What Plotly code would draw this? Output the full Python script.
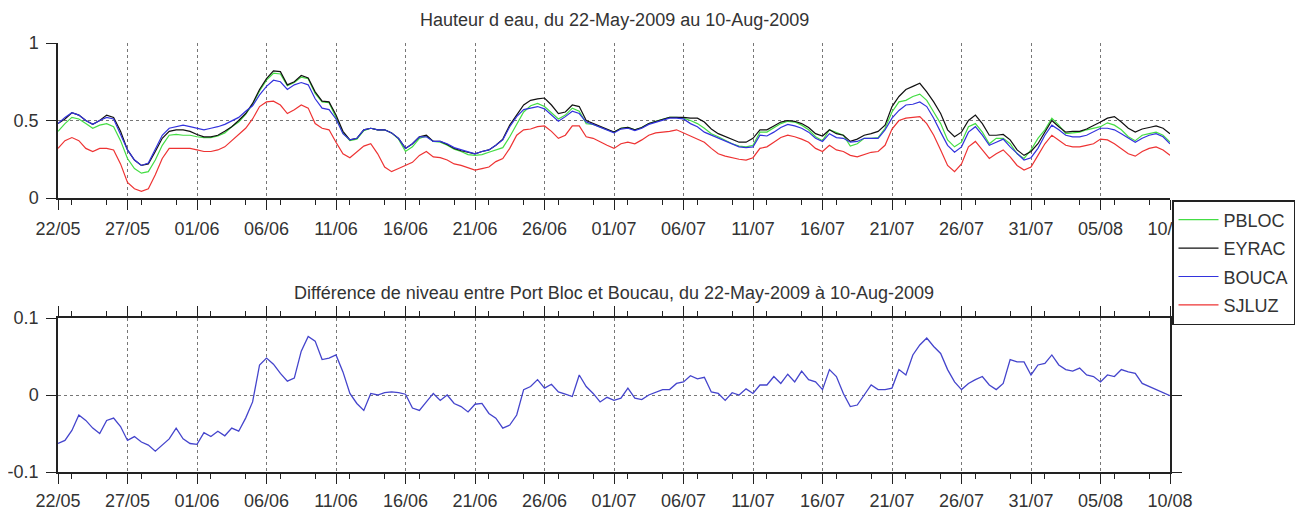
import pandas as pd
import plotly.graph_objects as go

# half-day samples, 22 May 2009 -> 10 Aug 2009
dates = pd.date_range("2009-05-22", "2009-08-10", freq="12h")

pbloc = [0.43, 0.48, 0.52, 0.51, 0.48, 0.45, 0.47, 0.48, 0.46, 0.37, 0.255, 0.19, 0.16, 0.17, 0.245, 0.34,
         0.405, 0.41, 0.405, 0.405, 0.395, 0.39, 0.39, 0.40, 0.42, 0.46, 0.49, 0.54, 0.605, 0.69, 0.76, 0.805,
         0.80, 0.725, 0.745, 0.78, 0.77, 0.675, 0.62, 0.615, 0.52, 0.42, 0.37, 0.38, 0.435, 0.45, 0.44, 0.44,
         0.42, 0.38, 0.30, 0.33, 0.385, 0.40,
         0.365, 0.36, 0.34, 0.315, 0.30, 0.28, 0.275, 0.28, 0.295, 0.31, 0.325, 0.395, 0.48, 0.555, 0.595, 0.61,
         0.59, 0.55, 0.51, 0.535, 0.58, 0.56, 0.48, 0.475, 0.455, 0.44, 0.425, 0.45, 0.455, 0.44, 0.455, 0.48,
         0.495, 0.51, 0.52, 0.52, 0.515, 0.50, 0.48, 0.45, 0.415, 0.395, 0.37, 0.35, 0.335, 0.33, 0.34, 0.425,
         0.425, 0.45, 0.48, 0.495, 0.49,
         0.47, 0.44, 0.395, 0.37, 0.44, 0.425, 0.405, 0.335, 0.35, 0.385, 0.385, 0.39, 0.45, 0.555, 0.62, 0.63,
         0.655, 0.67, 0.63, 0.555, 0.48, 0.375, 0.33, 0.36, 0.46, 0.48, 0.425, 0.35, 0.385, 0.385, 0.35, 0.285,
         0.255, 0.31, 0.385, 0.44, 0.515, 0.47, 0.415, 0.42, 0.425, 0.44, 0.45, 0.46, 0.485, 0.47, 0.44, 0.395,
         0.37, 0.405, 0.415, 0.425, 0.405, 0.36]

eyrac = [0.48, 0.51, 0.55, 0.535, 0.50, 0.475, 0.50, 0.535, 0.52, 0.43, 0.31, 0.245, 0.21, 0.22, 0.30, 0.385,
         0.43, 0.44, 0.44, 0.43, 0.41, 0.395, 0.395, 0.405, 0.43, 0.46, 0.50, 0.545, 0.61, 0.70, 0.77, 0.82,
         0.815, 0.73, 0.75, 0.79, 0.775, 0.685, 0.625, 0.62, 0.535, 0.43, 0.375, 0.385, 0.44, 0.45, 0.44, 0.44,
         0.42, 0.385, 0.32, 0.35, 0.395, 0.405,
         0.365, 0.365, 0.345, 0.32, 0.305, 0.295, 0.285, 0.30, 0.31, 0.34, 0.38, 0.47, 0.535, 0.60, 0.63, 0.64,
         0.645, 0.60, 0.545, 0.555, 0.60, 0.59, 0.50, 0.48, 0.46, 0.44, 0.425, 0.45, 0.455, 0.44, 0.455, 0.48,
         0.495, 0.51, 0.52, 0.52, 0.52, 0.515, 0.515, 0.49, 0.445, 0.415, 0.395, 0.375, 0.36, 0.36, 0.385, 0.44,
         0.44, 0.465, 0.49, 0.50, 0.495,
         0.48, 0.455, 0.415, 0.40, 0.44, 0.415, 0.405, 0.365, 0.38, 0.405, 0.415, 0.43, 0.47, 0.59, 0.655, 0.70,
         0.72, 0.74, 0.685, 0.62, 0.545, 0.44, 0.395, 0.425, 0.50, 0.535, 0.48, 0.405, 0.405, 0.41, 0.375, 0.31,
         0.275, 0.30, 0.35, 0.425, 0.50, 0.46, 0.425, 0.43, 0.43, 0.445, 0.465, 0.49, 0.515, 0.525, 0.49, 0.45,
         0.425, 0.445, 0.455, 0.465, 0.45, 0.415]

bouca = [0.48, 0.52, 0.55, 0.535, 0.50, 0.475, 0.50, 0.52, 0.51, 0.415, 0.31, 0.245, 0.21, 0.225, 0.32, 0.405,
         0.45, 0.46, 0.47, 0.46, 0.45, 0.44, 0.45, 0.46, 0.475, 0.50, 0.52, 0.56, 0.595, 0.665, 0.72, 0.76,
         0.75, 0.70, 0.73, 0.745, 0.73, 0.64, 0.58, 0.57, 0.51, 0.415, 0.375, 0.385, 0.44, 0.45, 0.44, 0.44,
         0.42, 0.385, 0.32, 0.35, 0.395, 0.395,
         0.365, 0.365, 0.35, 0.325, 0.31, 0.30, 0.285, 0.30, 0.31, 0.34, 0.375, 0.46, 0.525, 0.57, 0.58, 0.59,
         0.575, 0.535, 0.495, 0.525, 0.56, 0.545, 0.49, 0.475, 0.455, 0.435, 0.42, 0.445, 0.45, 0.435, 0.45, 0.475,
         0.49, 0.505, 0.515, 0.515, 0.51, 0.48, 0.46, 0.425, 0.405, 0.385, 0.365, 0.345, 0.33, 0.325, 0.33, 0.405,
         0.40, 0.425, 0.455, 0.475, 0.465,
         0.45, 0.425, 0.385, 0.365, 0.415, 0.39, 0.385, 0.36, 0.365, 0.385, 0.385, 0.385, 0.44, 0.515, 0.565, 0.60,
         0.605, 0.62, 0.59, 0.515, 0.425, 0.34, 0.295, 0.33, 0.425, 0.46, 0.405, 0.34, 0.36, 0.38, 0.33, 0.285,
         0.245, 0.26, 0.32, 0.405, 0.47, 0.44, 0.405, 0.395, 0.395, 0.405, 0.425, 0.45, 0.45, 0.44, 0.415, 0.385,
         0.36, 0.385, 0.405, 0.415, 0.395, 0.35]

sjluz = [0.32, 0.37, 0.39, 0.37, 0.32, 0.30, 0.32, 0.32, 0.31, 0.22, 0.10, 0.06, 0.043, 0.06, 0.15, 0.255,
         0.32, 0.32, 0.32, 0.32, 0.31, 0.30, 0.30, 0.31, 0.33, 0.37, 0.405, 0.45, 0.51, 0.59, 0.62, 0.625,
         0.60, 0.545, 0.57, 0.60, 0.58, 0.48, 0.45, 0.44, 0.36, 0.285, 0.26, 0.30, 0.335, 0.35, 0.285, 0.20,
         0.17, 0.19, 0.21, 0.23, 0.275, 0.30,
         0.265, 0.26, 0.245, 0.22, 0.21, 0.195, 0.18, 0.19, 0.20, 0.235, 0.255, 0.32, 0.405, 0.44, 0.445, 0.46,
         0.465, 0.43, 0.385, 0.405, 0.465, 0.465, 0.395, 0.385, 0.36, 0.34, 0.32, 0.35, 0.36, 0.35, 0.375, 0.405,
         0.42, 0.425, 0.43, 0.44, 0.42, 0.405, 0.385, 0.36, 0.32, 0.285, 0.27, 0.26, 0.25, 0.245, 0.26, 0.32,
         0.33, 0.36, 0.39, 0.405, 0.395,
         0.38, 0.36, 0.32, 0.30, 0.34, 0.31, 0.30, 0.275, 0.265, 0.28, 0.295, 0.30, 0.34, 0.445, 0.50, 0.515,
         0.52, 0.525, 0.48, 0.405, 0.31, 0.21, 0.17, 0.22, 0.33, 0.365, 0.31, 0.255, 0.285, 0.31, 0.265, 0.21,
         0.18, 0.20, 0.275, 0.35, 0.405, 0.375, 0.34, 0.33, 0.33, 0.34, 0.35, 0.38, 0.375, 0.35, 0.32, 0.285,
         0.27, 0.30, 0.32, 0.33, 0.31, 0.275]

# level difference Port Bloc - Boucau
diff = [-0.063, -0.059, -0.046, -0.026, -0.033, -0.043, -0.050, -0.033, -0.030, -0.041, -0.059, -0.054,
        -0.061, -0.065, -0.073, -0.065, -0.057, -0.043, -0.057, -0.063, -0.064, -0.049, -0.054, -0.047,
        -0.053, -0.043, -0.047, -0.030, -0.009, 0.039, 0.048, 0.040, 0.028, 0.018, 0.022, 0.057,
        0.076, 0.070, 0.046, 0.048, 0.052, 0.030, 0.002, -0.011, -0.020, 0.002, 0.000, 0.003,
        0.004, 0.003, 0.001, -0.017, -0.020, -0.009, 0.002, -0.007, 0.000, -0.011, -0.015, -0.022,
        -0.012, -0.011, -0.024, -0.030, -0.043, -0.039, -0.026, 0.007, 0.011, 0.020, 0.009, 0.014,
        0.004, 0.001, -0.002, 0.026, 0.011, 0.002, -0.009, -0.003, -0.007,
        -0.004, 0.009, -0.004, -0.006, 0.000, 0.003, 0.007, 0.007, 0.015, 0.017, 0.025, 0.021,
        0.023, 0.004, 0.002, -0.007, 0.003, 0.000, 0.008, 0.002, 0.013, 0.013, 0.024, 0.015,
        0.027, 0.017, 0.031, 0.020, 0.017, 0.007, 0.033, 0.024, 0.002, -0.015, -0.013, 0.000,
        0.013, 0.007, 0.007, 0.009, 0.033, 0.026, 0.052, 0.065, 0.074, 0.063, 0.054, 0.033,
        0.017, 0.007, 0.015, 0.020, 0.024, 0.013, 0.007, 0.015, 0.046, 0.043, 0.043, 0.026,
        0.039, 0.041, 0.052, 0.039, 0.033, 0.031, 0.035, 0.026, 0.024, 0.017, 0.026, 0.024,
        0.033, 0.030, 0.028, 0.015, 0.011, 0.007, 0.003, -0.001]

names = ["PBLOC", "EYRAC", "BOUCA", "SJLUZ"]
colors = ["#44dd44", "#111111", "#3333dd", "#ee3333"]

# the page body adds an 8px margin, so the figure starts 8px in and is sized to end at the window edge
W, H = 1297, 505
ML, MR, MT, MB = 50, 135, 35, 41
TOP, BOT = 43, 472  # plot area top / bottom in screen pixels


def py(px):
    # screen pixel row -> paper y
    return (BOT - px) / (BOT - TOP)


font = dict(family="Liberation Sans, Arial, sans-serif", size=18, color="#333333")
day = 86400000

fig = go.Figure()
for name, col, ys in zip(names, colors, [pbloc, eyrac, bouca, sjluz]):
    fig.add_trace(go.Scatter(x=dates, y=ys, name=name, mode="lines", legendgroup=name,
                             line=dict(color=col, width=1.2), xaxis="x", yaxis="y"))
fig.add_trace(go.Scatter(x=dates, y=diff, mode="lines", showlegend=False,
                         line=dict(color="#4444cc", width=1.3), xaxis="x2", yaxis="y2"))

xcommon = dict(range=["2009-05-22", "2009-08-10"], tickformat="%d/%m", tick0="2009-05-22",
               dtick=5 * day, ticks="outside", ticklen=10, tickcolor="#222", showline=True,
               linecolor="#222", linewidth=1.5, showgrid=True, gridcolor="#777", griddash="dot",
               gridwidth=1, zeroline=False, tickfont=font, automargin=False,
               minor=dict(dtick=2.5 * day, ticks="outside", ticklen=5, tickcolor="#222", showgrid=False))

ycommon = dict(ticks="outside", ticklen=10, tickcolor="#222", showline=True, linecolor="#222",
               linewidth=1.5, showgrid=True, gridcolor="#777", griddash="dot", zeroline=False,
               tickfont=font, ticklabelstandoff=4, automargin=False)

fig.update_layout(
    width=W, height=H, margin=dict(l=ML, r=MR, t=MT, b=MB, autoexpand=False),
    paper_bgcolor="white", plot_bgcolor="white", font=font,
    xaxis=dict(xcommon, domain=[0, 1], anchor="y", ticklabelstandoff=4),
    yaxis=dict(ycommon, domain=[py(198), 1], range=[0, 1], tickvals=[0, 0.5, 1],
               ticktext=["0", "0.5", "1"], anchor="x"),
    xaxis2=dict(xcommon, domain=[0, 1], anchor="y2", mirror="ticks", ticklabelstandoff=2),
    yaxis2=dict(ycommon, domain=[0, py(318)], range=[-0.1, 0.1], tickvals=[-0.1, 0, 0.1],
                ticktext=["-0.1", "0", "0.1"], mirror="ticks", anchor="x2"),
    legend=dict(x=(1164 - ML) / (W - ML - MR), y=py(200), xanchor="left", yanchor="top",
                bgcolor="white", bordercolor="#222", borderwidth=1.5, font=font,
                tracegroupgap=2, itemwidth=40),
    showlegend=True,
)

fig.add_annotation(text="Hauteur d eau, du 22-May-2009 au 10-Aug-2009", xref="paper", yref="paper",
                   x=0.5, y=py(20), showarrow=False, font=font, xanchor="center", yanchor="middle")
fig.add_annotation(text="Différence de niveau entre Port Bloc et Boucau, du 22-May-2009 à 10-Aug-2009",
                   xref="paper", yref="paper", x=0.5, y=py(293), showarrow=False, font=font,
                   xanchor="center", yanchor="middle")

fig.write_html("out.html")
